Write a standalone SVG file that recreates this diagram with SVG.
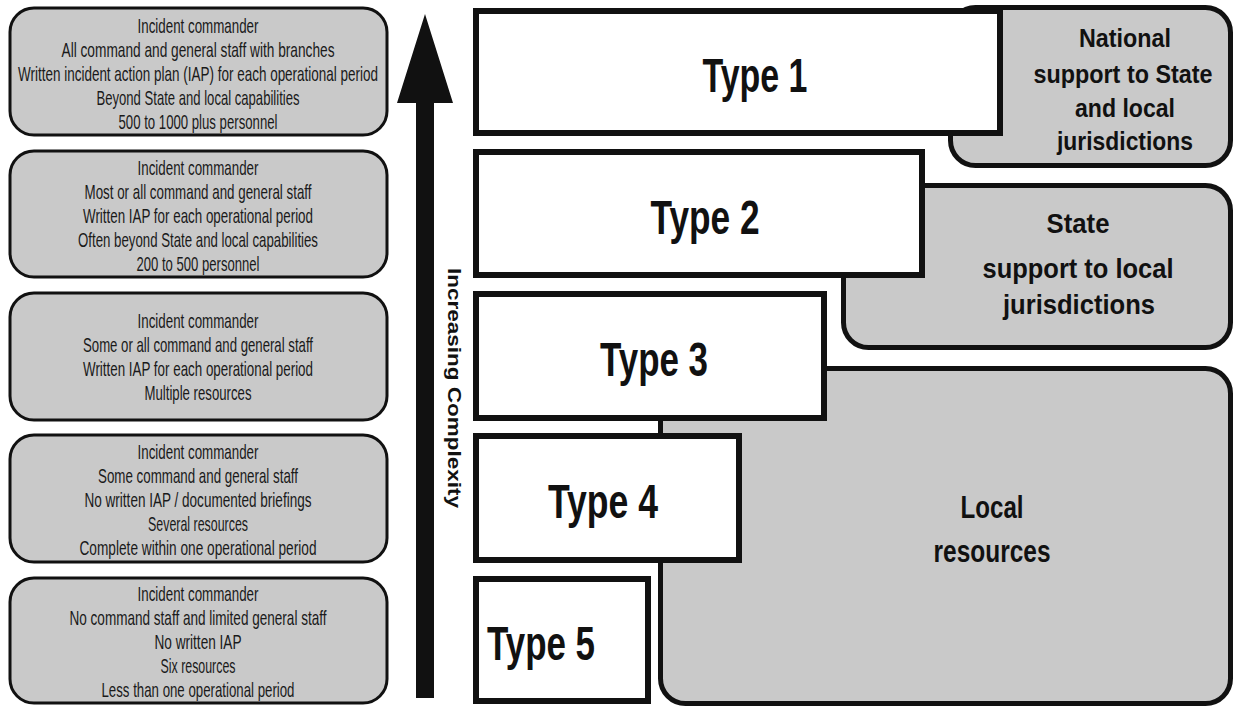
<svg xmlns="http://www.w3.org/2000/svg" width="1235" height="708" viewBox="0 0 1235 708">
<style>
.lbox{fill:#c9c9c9;stroke:#111;stroke-width:3}
.gbox{fill:#c9c9c9;stroke:#111;stroke-width:5}
.tbox{fill:#fff;stroke:#111;stroke-width:6}
.lt{font-family:"Liberation Sans",Arial,sans-serif;font-size:21px;fill:#1a1a1a;text-anchor:middle}
.tt{font-family:"Liberation Sans",Arial,sans-serif;font-size:48px;font-weight:bold;fill:#111;text-anchor:middle}
.gt{font-family:"Liberation Sans",Arial,sans-serif;font-weight:bold;fill:#111;text-anchor:middle}
</style>
<rect width="1235" height="708" fill="#fff"/>

<g id="box1">
<rect class="lbox" x="10" y="8" width="377" height="127" rx="24"/>
<text class="lt" x="198" y="33" textLength="121" lengthAdjust="spacingAndGlyphs">Incident commander</text>
<text class="lt" x="198" y="57" textLength="273" lengthAdjust="spacingAndGlyphs">All command and general staff with branches</text>
<text class="lt" x="198" y="81" textLength="360" lengthAdjust="spacingAndGlyphs">Written incident action plan (IAP) for each operational period</text>
<text class="lt" x="198" y="105" textLength="203" lengthAdjust="spacingAndGlyphs">Beyond State and local capabilities</text>
<text class="lt" x="198" y="129" textLength="159" lengthAdjust="spacingAndGlyphs">500 to 1000 plus personnel</text>
</g>
<g id="box2">
<rect class="lbox" x="10" y="151" width="377" height="126" rx="24"/>
<text class="lt" x="198" y="175" textLength="121" lengthAdjust="spacingAndGlyphs">Incident commander</text>
<text class="lt" x="198" y="199" textLength="227" lengthAdjust="spacingAndGlyphs">Most or all command and general staff</text>
<text class="lt" x="198" y="223" textLength="230" lengthAdjust="spacingAndGlyphs">Written IAP for each operational period</text>
<text class="lt" x="198" y="247" textLength="240" lengthAdjust="spacingAndGlyphs">Often beyond State and local capabilities</text>
<text class="lt" x="198" y="271" textLength="123" lengthAdjust="spacingAndGlyphs">200 to 500 personnel</text>
</g>
<g id="box3">
<rect class="lbox" x="10" y="293" width="377" height="127" rx="24"/>
<text class="lt" x="198" y="328" textLength="121" lengthAdjust="spacingAndGlyphs">Incident commander</text>
<text class="lt" x="198" y="352" textLength="230" lengthAdjust="spacingAndGlyphs">Some or all command and general staff</text>
<text class="lt" x="198" y="376" textLength="230" lengthAdjust="spacingAndGlyphs">Written IAP for each operational period</text>
<text class="lt" x="198" y="400" textLength="107" lengthAdjust="spacingAndGlyphs">Multiple resources</text>
</g>
<g id="box4">
<rect class="lbox" x="10" y="435" width="377" height="127" rx="24"/>
<text class="lt" x="198" y="459" textLength="121" lengthAdjust="spacingAndGlyphs">Incident commander</text>
<text class="lt" x="198" y="483" textLength="200" lengthAdjust="spacingAndGlyphs">Some command and general staff</text>
<text class="lt" x="198" y="507" textLength="227" lengthAdjust="spacingAndGlyphs">No written IAP / documented briefings</text>
<text class="lt" x="198" y="531" textLength="100" lengthAdjust="spacingAndGlyphs">Several resources</text>
<text class="lt" x="198" y="555" textLength="237" lengthAdjust="spacingAndGlyphs">Complete within one operational period</text>
</g>
<g id="box5">
<rect class="lbox" x="10" y="578" width="377" height="125" rx="24"/>
<text class="lt" x="198" y="601" textLength="121" lengthAdjust="spacingAndGlyphs">Incident commander</text>
<text class="lt" x="198" y="625" textLength="257" lengthAdjust="spacingAndGlyphs">No command staff and limited general staff</text>
<text class="lt" x="198" y="649" textLength="87" lengthAdjust="spacingAndGlyphs">No written IAP</text>
<text class="lt" x="198" y="673" textLength="75" lengthAdjust="spacingAndGlyphs">Six resources</text>
<text class="lt" x="198" y="697" textLength="193" lengthAdjust="spacingAndGlyphs">Less than one operational period</text>
</g>

<g id="connectors">
<polygon points="425,14 453,103 434,103 434,698 416,698 416,103 397,103" fill="#111"/>
<text class="gt" transform="translate(448,388) rotate(90)" font-size="19" textLength="240" lengthAdjust="spacingAndGlyphs">Increasing Complexity</text>
</g>

<g id="national">
<rect class="gbox" x="950.5" y="7.5" width="280" height="158" rx="25"/>
<text class="gt" font-size="25" x="1125" y="47" textLength="92" lengthAdjust="spacingAndGlyphs">National</text>
<text class="gt" font-size="25" x="1123" y="83" textLength="179" lengthAdjust="spacingAndGlyphs">support to State</text>
<text class="gt" font-size="25" x="1125" y="117" textLength="100" lengthAdjust="spacingAndGlyphs">and local</text>
<text class="gt" font-size="25" x="1125" y="150" textLength="136" lengthAdjust="spacingAndGlyphs">jurisdictions</text>
</g>
<g id="state">
<rect class="gbox" x="843.5" y="185.5" width="387" height="162" rx="25"/>
<text class="gt" font-size="28" x="1078" y="233" textLength="63" lengthAdjust="spacingAndGlyphs">State</text>
<text class="gt" font-size="28" x="1078" y="278" textLength="191" lengthAdjust="spacingAndGlyphs">support to local</text>
<text class="gt" font-size="28" x="1079" y="314" textLength="152" lengthAdjust="spacingAndGlyphs">jurisdictions</text>
</g>
<g id="local">
<rect class="gbox" x="660.5" y="368.5" width="570" height="335" rx="25"/>
<text class="gt" font-size="31" x="992" y="518" textLength="63" lengthAdjust="spacingAndGlyphs">Local</text>
<text class="gt" font-size="31" x="992" y="562" textLength="117" lengthAdjust="spacingAndGlyphs">resources</text>
</g>

<g id="type1">
<rect class="tbox" x="476" y="11" width="524" height="122"/>
<text class="tt" x="755" y="92" textLength="105" lengthAdjust="spacingAndGlyphs">Type 1</text>
</g>
<g id="type2">
<rect class="tbox" x="476" y="152" width="446" height="123"/>
<text class="tt" x="705" y="234" textLength="109" lengthAdjust="spacingAndGlyphs">Type 2</text>
</g>
<g id="type3">
<rect class="tbox" x="476" y="294" width="348" height="124"/>
<text class="tt" x="654" y="376" textLength="108" lengthAdjust="spacingAndGlyphs">Type 3</text>
</g>
<g id="type4">
<rect class="tbox" x="476" y="436" width="263" height="124"/>
<text class="tt" x="603" y="518" textLength="110" lengthAdjust="spacingAndGlyphs">Type 4</text>
</g>
<g id="type5">
<rect class="tbox" x="476" y="579" width="172" height="122"/>
<text class="tt" x="487" y="660" style="text-anchor:start" textLength="108" lengthAdjust="spacingAndGlyphs">Type 5</text>
</g>
</svg>
